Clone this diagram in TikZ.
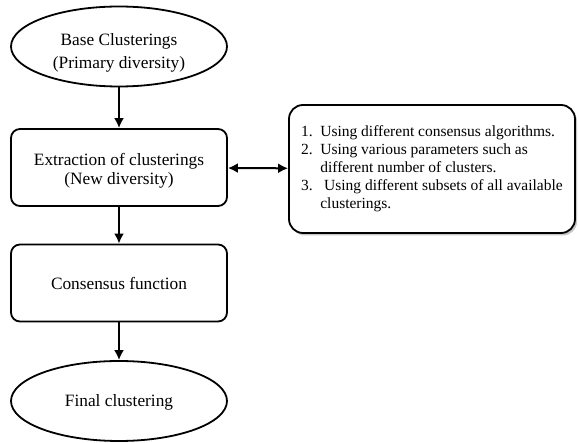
\documentclass[tikz,border=0pt]{standalone}
\usepackage{fontspec}
\setmainfont{Liberation Serif}
\usetikzlibrary{shapes.geometric,shadows,arrows.meta}

\begin{document}
\begin{tikzpicture}[x=1pt, y=-1pt,
    every node/.style={font=\fontsize{17.3}{18.5}\selectfont, align=center, inner sep=0pt, line width=1.8pt},
    terminal/.style={draw, ellipse, minimum width=216pt, minimum height=80pt, text depth=0pt},
    stage/.style={draw, rounded corners=9pt, minimum width=216pt, minimum height=77pt, text depth=0pt},
    flow/.style={-{Latex[length=10pt,width=10pt]}, line width=2pt}]
    \useasboundingbox (0,0) rectangle (579,443);

    \node[terminal, text height=44pt] (base) at (119,46.5) {Base Clusterings\\[4pt](Primary diversity)};
    \node[stage, text height=34pt] (extract) at (119,167.5) {Extraction of clusterings\\(New diversity)};
    \node[stage] (consensus) at (119,283) {Consensus function};
    \node[terminal] (final) at (119,401) {Final clustering};

    \node[draw, fill=white, rounded corners=14pt, minimum width=286pt, minimum height=128pt,
          drop shadow={shadow xshift=2pt, shadow yshift=-2.5pt, opacity=0.45},
          font=\fontsize{15.5}{18}\selectfont] (ways) at (432,169)
      {\begin{tabular}{@{}l@{\hspace{7.5pt}}l@{}}
        1. & Using different consensus algorithms.\\
        2. & Using various parameters such as\\
           & different number of clusters.\\
        3. & \ Using different subsets of all available\\
           & clusterings.
      \end{tabular}};

    \draw[flow] (base) -- (extract);
    \draw[flow] (extract) -- (consensus);
    \draw[flow] (consensus) -- (final);
    \draw[{Latex[length=10pt,width=10pt]}-{Latex[length=10pt,width=10pt]}, line width=2pt] (extract) -- (ways);
\end{tikzpicture}
\end{document}
